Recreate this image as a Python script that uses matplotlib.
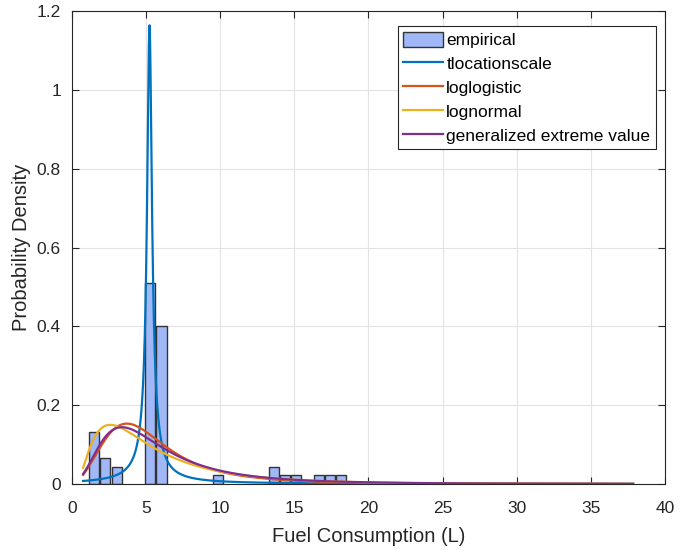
import math
import numpy as np
import matplotlib
matplotlib.use("Agg")
import matplotlib.pyplot as plt

plt.rcParams['font.family'] = ['Liberation Sans', 'DejaVu Sans']

# histogram of fuel use (pdf normalised), left edge of each non-empty bin
bar_left = [1.15, 1.91, 2.67, 4.94, 5.70, 9.49, 13.28, 14.04, 14.79, 16.31, 17.07, 17.83]
bar_height = [0.133, 0.067, 0.044, 0.511, 0.400, 0.022, 0.044, 0.022, 0.022, 0.022, 0.022, 0.022]
bar_width = 0.68

# fitted distribution parameters
t_mu, t_sigma, t_nu = 5.23, 0.238, 0.55
ll_mu, ll_sigma = 1.609, 0.378
ln_mu, ln_sigma = 1.536, 0.767
gev_k, gev_sigma, gev_mu = 0.30, 2.66, 4.04

x_lo, x_hi = 0.75, 37.85


def tls_pdf(x, mu, sigma, nu):
    c = math.exp(math.lgamma((nu + 1) / 2) - math.lgamma(nu / 2)) / (sigma * math.sqrt(nu * math.pi))
    z = (x - mu) / sigma
    return c * (1 + z**2 / nu) ** (-(nu + 1) / 2)


def loglogistic_pdf(x, mu, sigma):
    z = (np.log(x) - mu) / sigma
    ez = np.exp(z)
    return ez / (sigma * x * (1 + ez) ** 2)


def lognormal_pdf(x, mu, sigma):
    z = (np.log(x) - mu) / sigma
    return np.exp(-0.5 * z**2) / (x * sigma * np.sqrt(2 * np.pi))


def gev_pdf(x, k, sigma, mu):
    t = 1 + k * (x - mu) / sigma
    t = np.clip(t, 1e-12, None)
    return np.exp(-t ** (-1 / k)) * t ** (-1 - 1 / k) / sigma


x = np.linspace(x_lo, x_hi, 4000)

fig = plt.figure(figsize=(6.83, 5.5), dpi=100)
ax = fig.add_axes([0.1054, 0.12, 0.8682, 0.86])

h_bar = ax.bar(bar_left, bar_height, width=bar_width, align='edge',
               color='#a0b8f7', edgecolor='#333333', linewidth=1.0, label='empirical', zorder=2)
h_t, = ax.plot(x, tls_pdf(x, t_mu, t_sigma, t_nu), color='#0072BD', lw=1.6,
               label='tlocationscale', zorder=3)
h_ll, = ax.plot(x, loglogistic_pdf(x, ll_mu, ll_sigma), color='#D95319', lw=1.6,
                label='loglogistic', zorder=3)
h_ln, = ax.plot(x, lognormal_pdf(x, ln_mu, ln_sigma), color='#EDB120', lw=1.6,
                label='lognormal', zorder=3)
h_gev, = ax.plot(x, gev_pdf(x, gev_k, gev_sigma, gev_mu), color='#7E2F8E', lw=1.6,
                 label='generalized extreme value', zorder=3)

ax.set_xlim(0, 40)
ax.set_ylim(0, 1.2)
ax.set_xticks(np.arange(0, 41, 5))
ax.set_yticks([0, 0.2, 0.4, 0.6, 0.8, 1, 1.2])
ax.set_yticklabels(['0', '0.2', '0.4', '0.6', '0.8', '1', '1.2'])
ax.grid(True, color='#e3e3e3', linewidth=0.8)
ax.set_axisbelow(True)
ax.tick_params(direction='in', top=True, right=True, length=5, labelsize=12.5,
               colors='#262626', width=0.8)
ax.tick_params(axis='x', pad=12)
ax.tick_params(axis='y', pad=8)
for s in ax.spines.values():
    s.set_color('#262626')
    s.set_linewidth(0.8)

ax.set_xlabel('Fuel Consumption (L)', fontsize=14.5, color='#262626', labelpad=8)
ax.set_ylabel('Probability Density', fontsize=14.5, color='#262626', labelpad=4)

leg = ax.legend([h_bar, h_t, h_ll, h_ln, h_gev],
                ['empirical', 'tlocationscale', 'loglogistic', 'lognormal',
                 'generalized extreme value'],
                loc='upper right', bbox_to_anchor=(0.99, 0.975), fontsize=12.5,
                frameon=True, fancybox=False, edgecolor='#262626', framealpha=1,
                handlelength=2.3, handleheight=1.0, handletextpad=0.2, labelspacing=0.42,
                borderpad=0.3, borderaxespad=0.2)
leg.get_frame().set_linewidth(0.8)

fig.savefig('out.png', dpi=100)
